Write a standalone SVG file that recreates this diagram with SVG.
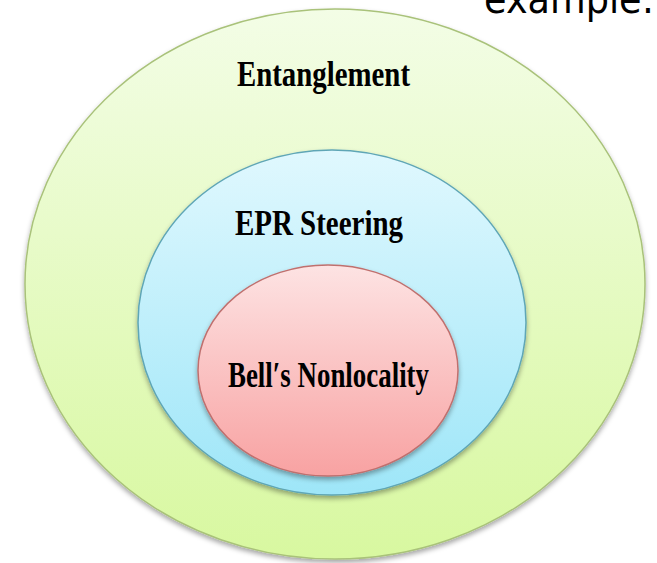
<svg xmlns="http://www.w3.org/2000/svg" width="657" height="563" viewBox="0 0 657 563">
  <defs>
    <linearGradient id="gOuter" x1="0" y1="0" x2="0" y2="1">
      <stop offset="0" stop-color="#f3fde6"/>
      <stop offset="1" stop-color="#d8f8a0"/>
    </linearGradient>
    <linearGradient id="gMid" x1="0" y1="0" x2="0" y2="1">
      <stop offset="0" stop-color="#e0f8fe"/>
      <stop offset="1" stop-color="#9ee6f8"/>
    </linearGradient>
    <linearGradient id="gInner" x1="0" y1="0" x2="0" y2="1">
      <stop offset="0" stop-color="#fde3e3"/>
      <stop offset="1" stop-color="#f8a2a2"/>
    </linearGradient>
    <filter id="shadow" x="-10%" y="-10%" width="120%" height="125%">
      <feDropShadow dx="0" dy="3" stdDeviation="2.5" flood-color="#000" flood-opacity="0.35"/>
    </filter>
  </defs>
  <style>
    .label { font-family: "Liberation Serif", "Times New Roman", serif; font-weight: bold; font-size: 35px; fill: #000; }
    .note { font-family: "DejaVu Sans", "Noto Sans", sans-serif; font-weight: normal; font-size: 40px; fill: #000; }
  </style>

  <rect width="657" height="563" fill="#fff"/>

  <!-- handwritten-style heading, running off the top edge -->
  <text class="note" x="484" y="13" textLength="170" lengthAdjust="spacingAndGlyphs">example:</text>

  <g id="entanglement">
    <ellipse cx="335" cy="284" rx="310" ry="275" fill="url(#gOuter)" stroke="#a9c27a" stroke-width="1.5" filter="url(#shadow)"/>
    <text class="label" x="237" y="86" textLength="173" lengthAdjust="spacingAndGlyphs">Entanglement</text>
  </g>

  <g id="epr-steering">
    <ellipse cx="332" cy="322.5" rx="194" ry="172.5" fill="url(#gMid)" stroke="#5fa6b6" stroke-width="1.5" filter="url(#shadow)"/>
    <text class="label" x="235" y="235" textLength="168" lengthAdjust="spacingAndGlyphs">EPR Steering</text>
  </g>

  <g id="bell-nonlocality">
    <ellipse cx="328" cy="370.5" rx="130" ry="105.5" fill="url(#gInner)" stroke="#c0706e" stroke-width="1.5" filter="url(#shadow)"/>
    <text class="label" x="228" y="387" textLength="201" lengthAdjust="spacingAndGlyphs">Bell′s Nonlocality</text>
  </g>

  <g id="connectors"/>
</svg>
